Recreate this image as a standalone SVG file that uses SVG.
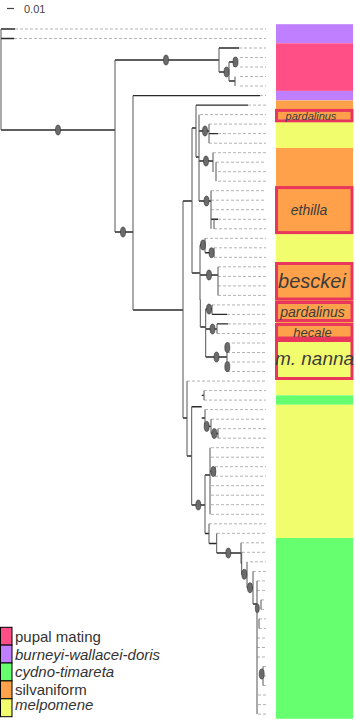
<svg xmlns="http://www.w3.org/2000/svg" width="356" height="721" viewBox="0 0 356 721">
<style>
.tip{stroke:#b3b3b3;stroke-width:1;stroke-dasharray:3 2;fill:none}
.br{stroke:#2a2a2a;stroke-width:1.4;fill:none}
.vr{stroke:#555;stroke-width:1;fill:none}
.nd{fill:#6b6b6b;stroke:#333;stroke-width:0.6}
.lbl{font-family:"Liberation Sans",Arial,sans-serif;font-style:italic;fill:#3c3c3c;text-anchor:middle}
.box{fill:none;stroke:#e8365d;stroke-width:3}
.leg{font-family:"Liberation Sans",Arial,sans-serif;font-size:15px;fill:#333}
.sw{stroke:#000;stroke-width:1}
</style>
<g id="scale">
<line x1="7" y1="8.5" x2="14" y2="8.5" stroke="#444" stroke-width="1.2"/>
<text x="24" y="12.5" font-family="Liberation Sans,Arial,sans-serif" font-size="11" fill="#444">0.01</text>
</g>
<g id="colorbar">
<rect x="276" y="24.2" width="77" height="19.1" fill="#bf7fff"/>
<rect x="276" y="43.3" width="77" height="47.6" fill="#ff4f86"/>
<rect x="276" y="90.9" width="77" height="9.5" fill="#bf7fff"/>
<rect x="276" y="100.4" width="77" height="19" fill="#ffa14a"/>
<rect x="276" y="119.4" width="77" height="28.6" fill="#f2fd6e"/>
<rect x="276" y="148" width="77" height="85.6" fill="#ffa14a"/>
<rect x="276" y="233.6" width="77" height="28.5" fill="#f2fd6e"/>
<rect x="276" y="262.1" width="77" height="76.1" fill="#ffa14a"/>
<rect x="276" y="338.2" width="77" height="57.1" fill="#f2fd6e"/>
<rect x="276" y="395.3" width="77" height="9.5" fill="#66ff70"/>
<rect x="276" y="404.8" width="77" height="133.2" fill="#f2fd6e"/>
<rect x="276" y="538" width="77" height="180.8" fill="#66ff70"/>
</g>
<g id="box-pardalinus1"><rect class="box" x="276.5" y="110.4" width="75.5" height="10.4"/><text class="lbl" x="311" y="119.5" font-size="11">pardalinus</text></g>
<g id="box-ethilla"><rect class="box" x="276.5" y="187.6" width="75.5" height="45"/><text class="lbl" x="309" y="215" font-size="14">ethilla</text></g>
<g id="box-besckei"><rect class="box" x="276.5" y="263.5" width="75.5" height="35.5"/><text class="lbl" x="312" y="288" font-size="20">besckei</text></g>
<g id="box-pardalinus2"><rect class="box" x="276.5" y="302.5" width="75.5" height="18"/><text class="lbl" x="312.5" y="317" font-size="14">pardalinus</text></g>
<g id="box-hecale"><rect class="box" x="276.5" y="324.5" width="75.5" height="13.5"/><text class="lbl" x="312.5" y="337" font-size="13">hecale</text></g>
<g id="box-nanna"><rect class="box" x="276.5" y="340.5" width="75.5" height="38"/><text class="lbl" x="314.5" y="365" font-size="19">m. nanna</text></g>
<g id="tips">
<path class="tip" d="M15 29H266M14 38.5H266M239 48H266M240 57.5H266M240 67H266M240 76.5H266M240 86H266M260 95.6H266M248 105.1H266M200 114.6H266M209 124.1H266M218 133.6H266M209 143.2H266M213 152.7H266M216 162.2H266M218 171.7H266M218 181.2H266M211 190.7H266M211 200.2H266M211 209.7H266M218 219.3H266M214 228.8H266M205 238.3H266M214 247.8H266M214 257.3H266M218 266.8H266M218 276.4H266M218 285.9H266M218 295.4H266M212 304.9H266M227 314.4H266M228 323.9H266M217 333.5H266M227 343H266M227 352.5H266M227 362H266M227 371.5H266M187 381.1H266M204 390.6H266M204 400.1H266M205 409.6H266M211 419.2H266M218 428.7H266M218 438.2H266M211 447.7H266M211 457.2H266M215 466.7H266M215 476.2H266M211 485.7H266M211 495.2H266M211 504.7H266M211 514.3H266M209 523.8H266M217 533.3H266M241 542.8H266M242 552.3H266M250 561.8H266M253 571.4H266M257 580.9H266M257 590.4H266M261 599.9H266M261 609.4H266M259 618.9H266M259 628.4H266M257 638H266M257 647.5H266M257 657H266M263 666.5H266M263 676H266M263 685.5H266M258 695H266M258 704.6H266M258 714.1H266"/>
</g>
<g id="connectors">
<path class="br" d="M1 29H15M1 38.5H14M1 130H115M115 60H219M219 48H239M219 72H229M229 62H234M229 81H235M115 232H133M133 95.6H260M183 310H133M192 201H183M196 128H192M196 105.1H248M199 157H196M199 131H209M209 133.6H218M199 161H213M199 201H211M211 219.3H218M200 273H192M200 245H205M205 252.7H214M200 275H218M200 300H200.3M200.3 327H205.7M205.7 309H212M212 314.4H227M205.7 329H217M217 323.9H228M205.7 357H227M183 418H187M187 456H191.7M191.7 406.7H201.7M201.7 395.4H204M201.7 418H205M205 426.4H211M211 433.5H218M191.7 505H205M205 475H210M210 471.5H215M205 533.5H209M209 543.5H216.7M216.7 553H241M241 563.5H241.7M241.7 574.3H247M247 587.7H253M253 604H257"/>
<path class="vr" d="M1 29V130M115 60V232M133 95.6V310M219 48V72M229 62V81M234 57.5V67M235 76.5V86M183 201V418M192 128V273M196 105.1V157M199 114.6V201M209 124.1V143.2M213 152.7V172M216 162.2V181.2M211 190.7V228.8M214 219.3V228.8M200 245V300M205 238.3V252.7M214 247.8V257.3M218 266.8V295.4M200.3 300V327M205.7 309V357M212 304.9V314.4M217 323.9V333.5M227 343V371.5M187 381.1V456M191.7 406.7V505M204 390.6V400.1M205 409.6V426.4M211 419.2V433.5M218 428.7V438.2M205 475V533.5M210 447.7V514.3M215 466.7V476.2M209 523.8V543.5M216.7 533.3V553M241 542.8V563.5M241.7 552.3V574.3M247 561.8V587.7M253 571.4V604M257 580.9V714.1M261 599.9V609.4M259 618.9V628.4M263 666.5V685.5"/>
</g>
<g id="nodes">
<ellipse class="nd" cx="58" cy="130" rx="2.5" ry="5"/>
<ellipse class="nd" cx="166" cy="60" rx="2.5" ry="5"/>
<ellipse class="nd" cx="123" cy="232" rx="2.5" ry="5"/>
<ellipse class="nd" cx="226.5" cy="72" rx="2.5" ry="5"/>
<ellipse class="nd" cx="235.5" cy="62" rx="2.5" ry="5"/>
<ellipse class="nd" cx="205" cy="131" rx="2.5" ry="5"/>
<ellipse class="nd" cx="206" cy="161" rx="2.5" ry="5"/>
<ellipse class="nd" cx="206.5" cy="201" rx="2.5" ry="5"/>
<ellipse class="nd" cx="203" cy="245" rx="2.5" ry="5"/>
<ellipse class="nd" cx="211.5" cy="252.7" rx="2.5" ry="5"/>
<ellipse class="nd" cx="209" cy="275" rx="2.5" ry="5"/>
<ellipse class="nd" cx="209" cy="309" rx="2.5" ry="5"/>
<ellipse class="nd" cx="212.5" cy="329" rx="2.5" ry="5"/>
<ellipse class="nd" cx="216.5" cy="357" rx="2.5" ry="5"/>
<ellipse class="nd" cx="227.3" cy="347.5" rx="2.5" ry="5"/>
<ellipse class="nd" cx="227.3" cy="366.7" rx="2.5" ry="5"/>
<ellipse class="nd" cx="206.7" cy="426.4" rx="2.5" ry="5"/>
<ellipse class="nd" cx="214.3" cy="433.5" rx="2.5" ry="5"/>
<ellipse class="nd" cx="198.3" cy="505" rx="2.5" ry="5"/>
<ellipse class="nd" cx="213.3" cy="471.5" rx="2.5" ry="5"/>
<ellipse class="nd" cx="228.3" cy="553" rx="2.5" ry="5"/>
<ellipse class="nd" cx="244.3" cy="574.3" rx="2.5" ry="5"/>
<ellipse class="nd" cx="250" cy="587.7" rx="2.5" ry="5"/>
<ellipse class="nd" cx="257.3" cy="608.3" rx="2" ry="4.5"/>
<ellipse class="nd" cx="261.7" cy="674" rx="2.5" ry="5"/>
</g>
<g id="legend">
<rect class="sw" x="0.5" y="627.3" width="11.5" height="17.8" fill="#ff4f86"/>
<rect class="sw" x="0.5" y="645.1" width="11.5" height="17.9" fill="#bf7fff"/>
<rect class="sw" x="0.5" y="663" width="11.5" height="17.9" fill="#66ff70"/>
<rect class="sw" x="0.5" y="680.9" width="11.5" height="17.9" fill="#ffa14a"/>
<rect class="sw" x="0.5" y="698.8" width="11.5" height="17.9" fill="#f2fd6e"/>
<text class="leg" x="15" y="641.5">pupal mating</text>
<text class="leg" x="15" y="659.5" font-style="italic">burneyi-wallacei-doris</text>
<text class="leg" x="15" y="677" font-style="italic">cydno-timareta</text>
<text class="leg" x="15" y="694.5">silvaniform</text>
<text class="leg" x="15" y="710" font-style="italic">melpomene</text>
</g>
</svg>
